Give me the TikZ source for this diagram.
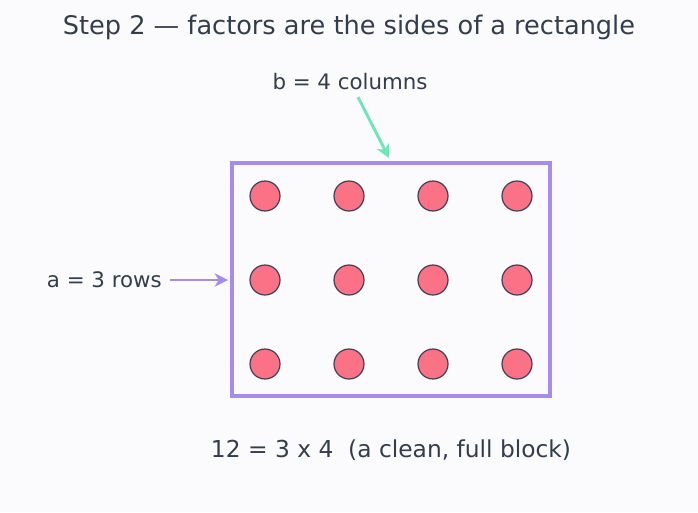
\documentclass[tikz,border=0pt]{standalone}
\usepackage{fontspec}
\setmainfont{DejaVu Sans}
\usetikzlibrary{arrows.meta}

\definecolor{bgpaper}{HTML}{FBFBFE}
\definecolor{inkgray}{HTML}{333D4D}
\definecolor{boxpurple}{HTML}{A78BEF}
\definecolor{dotrose}{HTML}{FB7185}
\definecolor{dotedge}{HTML}{3F3F55}
\definecolor{arrowmint}{HTML}{6EE7B7}

\tikzset{
    txt/.style={text=inkgray, inner sep=0pt},
    dot/.style={circle, fill=dotrose, draw=dotedge, line width=0.9pt, minimum size=22.5pt, inner sep=0pt},
    pointer/.style={line width=2.2pt, -{Stealth[length=10pt, width=10pt, inset=3pt]}}
}

\begin{document}
\begin{tikzpicture}[x=0.75pt,y=-0.75pt]

    % background
    \fill[bgpaper] (0,0) rectangle (698,512);
    \useasboundingbox (0,0) rectangle (698,512);

    % title
    \node[txt, font=\fontsize{19.2}{22}\selectfont] (title) at (349,27) {Step 2 — factors are the sides of a rectangle};

    % the block
    \draw[boxpurple, line width=2.6pt] (232,163) rectangle (550,396);

    % dots, 3 rows by 4 columns
    \foreach \r [count=\i] in {196,280,364}
        \foreach \c [count=\j] in {265,349,433,517}
            \node[dot] (d\i\j) at (\c,\r) {};

    % labels
    \node[txt, font=\fontsize{16}{19}\selectfont] (colslabel) at (350,82) {b = 4 columns};
    \node[txt, font=\fontsize{16}{19}\selectfont, anchor=east] (rowslabel) at (162,280) {a = 3 rows};
    \node[txt, font=\fontsize{17.5}{21}\selectfont] (sumlabel) at (391,450) {12 = 3 x 4\ \ (a clean, full block)};

    % arrow ends
    \coordinate (colstip) at (389,158);
    \coordinate (rowstip) at (228,280);
    \coordinate (colsfoot) at (358,97);
    \coordinate (rowsfoot) at (170,280);

    % arrows
    \draw[pointer, arrowmint] (colsfoot) -- (colstip);
    \draw[pointer, boxpurple] (rowsfoot) -- (rowstip);

\end{tikzpicture}
\end{document}
